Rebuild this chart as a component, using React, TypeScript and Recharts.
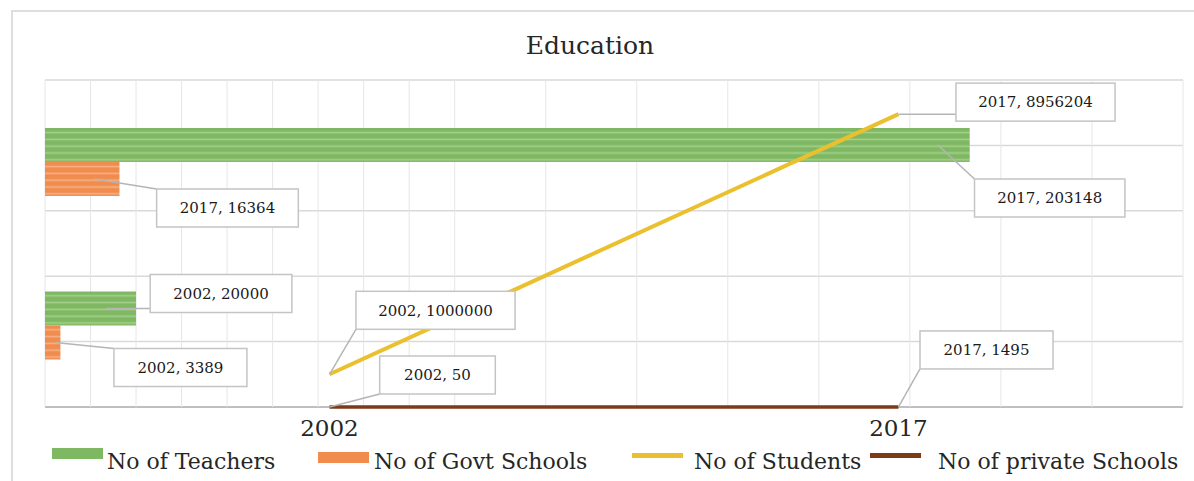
import React from 'react';
import {
  BarChart,
  Bar,
  ComposedChart,
  Line,
  XAxis,
  YAxis,
  CartesianGrid,
  LabelList,
} from 'recharts';

const years = ['2002', '2017'];
const teachers = [20000, 203148];
const govtSchools = [3389, 16364];
const students = [1000000, 8956204];
const privateSchools = [50, 1495];

const data = years.map((year, i) => ({
  year,
  teachers: teachers[i],
  govt: govtSchools[i],
  students: students[i],
  privateSchools: privateSchools[i],
}));

const W = 1194;
const H = 481;
const FONT = '"DejaVu Serif", "Liberation Serif", serif';
const MARGIN = { top: 80, right: 11, left: 45, bottom: 74 };
// the line layers put their two years in the middle of each half of the plot
const HALF_BAND = (W - MARGIN.left - MARGIN.right) / 4;

// where each callout box sits, relative to its anchor point
const calloutOffsets: Record<string, [number, number][]> = {
  teachers: [[85, -15], [80, 53]],
  govt: [[120, 25], [108, 29]],
  students: [[106, -64], [137, -12]],
  privateSchools: [[108, -32], [88, -57]],
};

const legendItems = [
  { name: 'No of Teachers', kind: 'bar', color: '#7fb862', swatchX: 52, swatchY: 448, textX: 107 },
  { name: 'No of Govt Schools', kind: 'bar', color: '#f08c4e', swatchX: 318, swatchY: 452, textX: 374 },
  { name: 'No of Students', kind: 'line', color: '#ebc02e', swatchX: 632, swatchY: 455, textX: 694 },
  { name: 'No of private Schools', kind: 'line', color: '#7d3a17', swatchX: 870, swatchY: 455, textX: 938 },
];

function Callout({ ax, ay, cx, cy, text }: { ax: number; ay: number; cx: number; cy: number; text: string }) {
  const w = text.length * 8.7 + 46;
  const h = 38;
  const left = cx - w / 2;
  const top = cy - h / 2;
  const px = Math.max(left, Math.min(ax, left + w));
  const py = Math.max(top, Math.min(ay, top + h));
  return (
    <g>
      <line x1={ax} y1={ay} x2={px} y2={py} stroke="#b5b5b5" strokeWidth={1.5} />
      <rect x={left} y={top} width={w} height={h} fill="#fff" stroke="#c4c4c4" strokeWidth={1.5} />
      <text
        x={cx}
        y={cy}
        dy="0.35em"
        textAnchor="middle"
        fontFamily={FONT}
        fontSize={15}
        fill="#1a1a1a"
      >
        {text}
      </text>
    </g>
  );
}

const barCallout = (key: string) => (props: any) => {
  const { x, y, width, height, value, index } = props;
  const endX = Number(x) + Number(width);
  const midY = Number(y) + Number(height) / 2;
  const [dx, dy] = calloutOffsets[key][index];
  const ax = endX - Math.min(32, Number(width) / 3);
  return <Callout ax={ax} ay={midY} cx={endX + dx} cy={midY + dy} text={`${years[index]}, ${value}`} />;
};

const lineCallout = (key: string) => (props: any) => {
  const { x, y, value, index } = props;
  const [dx, dy] = calloutOffsets[key][index];
  return <Callout ax={Number(x)} ay={Number(y)} cx={Number(x) + dx} cy={Number(y) + dy} text={`${years[index]}, ${value}`} />;
};

const YearTick = (props: any) => {
  const { x, y, payload } = props;
  return (
    <text x={x} y={y + 3} dy="0.8em" textAnchor="middle" fontFamily={FONT} fontSize={23} fill="#262626">
      {payload.value}
    </text>
  );
};

const layer: React.CSSProperties = { position: 'absolute', left: 0, top: 0 };

export default function App() {
  return (
    <div
      style={{
        position: 'absolute',
        left: 0,
        top: 0,
        width: W,
        height: H,
        overflow: 'hidden',
        background: '#fff',
        fontFamily: FONT,
      }}
    >
      <div
        style={{
          position: 'absolute',
          left: 11,
          top: 10,
          width: 1200,
          height: 500,
          border: '2px solid #dedede',
        }}
      />
      <div
        style={{
          position: 'absolute',
          left: 0,
          width: 1180,
          top: 31,
          textAlign: 'center',
          fontSize: 25,
          color: '#262626',
        }}
      >
        Education
      </div>

      {/* horizontal gridlines and the year axis, below the bars */}
      <div style={layer}>
        <ComposedChart width={W} height={H} data={data} margin={{ ...MARGIN, bottom: 0 }}>
          <CartesianGrid vertical={false} stroke="#d9d9d9" strokeWidth={1.5} />
          <XAxis
            dataKey="year"
            height={74}
            padding={{ left: HALF_BAND, right: HALF_BAND }}
            axisLine={{ stroke: '#bfbfbf', strokeWidth: 2 }}
            tickLine={false}
            tick={<YearTick />}
          />
          <YAxis hide domain={[0, 10000000]} tickCount={6} />
          <Line dataKey="students" stroke="none" dot={false} isAnimationActive={false} />
        </ComposedChart>
      </div>

      {/* horizontal bars */}
      <div style={layer}>
        <BarChart
          width={W}
          height={H}
          data={data}
          layout="vertical"
          margin={MARGIN}
          barGap={0}
          barSize={34}
        >
          <defs>
            <pattern id="greenStripe" patternUnits="userSpaceOnUse" width={10} height={6.8}>
              <rect width={10} height={6.8} fill="#7fb862" />
              <rect y={2.6} width={10} height={1.6} fill="#a3d08c" />
            </pattern>
            <pattern id="orangeStripe" patternUnits="userSpaceOnUse" width={10} height={6.8}>
              <rect width={10} height={6.8} fill="#f08c4e" />
              <rect y={2.6} width={10} height={1.6} fill="#f6b285" />
            </pattern>
          </defs>
          <CartesianGrid horizontal={false} stroke="#e6e6e6" />
          <XAxis type="number" hide domain={[0, 250000]} tickCount={26} />
          <YAxis type="category" dataKey="year" hide reversed />
          <Bar dataKey="teachers" fill="url(#greenStripe)" isAnimationActive={false}>
            <LabelList dataKey="teachers" content={barCallout('teachers')} />
          </Bar>
          <Bar dataKey="govt" fill="url(#orangeStripe)" isAnimationActive={false}>
            <LabelList dataKey="govt" content={barCallout('govt')} />
          </Bar>
        </BarChart>
      </div>

      {/* lines on the secondary axis, on top of everything */}
      <div style={layer}>
        <ComposedChart width={W} height={H} data={data} margin={MARGIN}>
          <XAxis dataKey="year" hide padding={{ left: HALF_BAND, right: HALF_BAND }} />
          <YAxis hide domain={[0, 10000000]} tickCount={6} />
          <Line
            dataKey="students"
            stroke="#ebc02e"
            strokeWidth={4}
            dot={false}
            isAnimationActive={false}
          >
            <LabelList dataKey="students" content={lineCallout('students')} />
          </Line>
          <Line
            dataKey="privateSchools"
            stroke="#7d3a17"
            strokeWidth={3.5}
            dot={false}
            isAnimationActive={false}
          >
            <LabelList dataKey="privateSchools" content={lineCallout('privateSchools')} />
          </Line>
        </ComposedChart>
      </div>

      {legendItems.map((item) => (
        <React.Fragment key={item.name}>
          <div
            style={{
              position: 'absolute',
              left: item.swatchX,
              top: item.kind === 'bar' ? item.swatchY : item.swatchY - 2,
              width: 51,
              height: item.kind === 'bar' ? 11 : 5,
              background: item.color,
            }}
          />
          <div
            style={{
              position: 'absolute',
              left: item.textX,
              top: 449,
              fontSize: 22,
              color: '#262626',
              whiteSpace: 'nowrap',
            }}
          >
            {item.name}
          </div>
        </React.Fragment>
      ))}
    </div>
  );
}
